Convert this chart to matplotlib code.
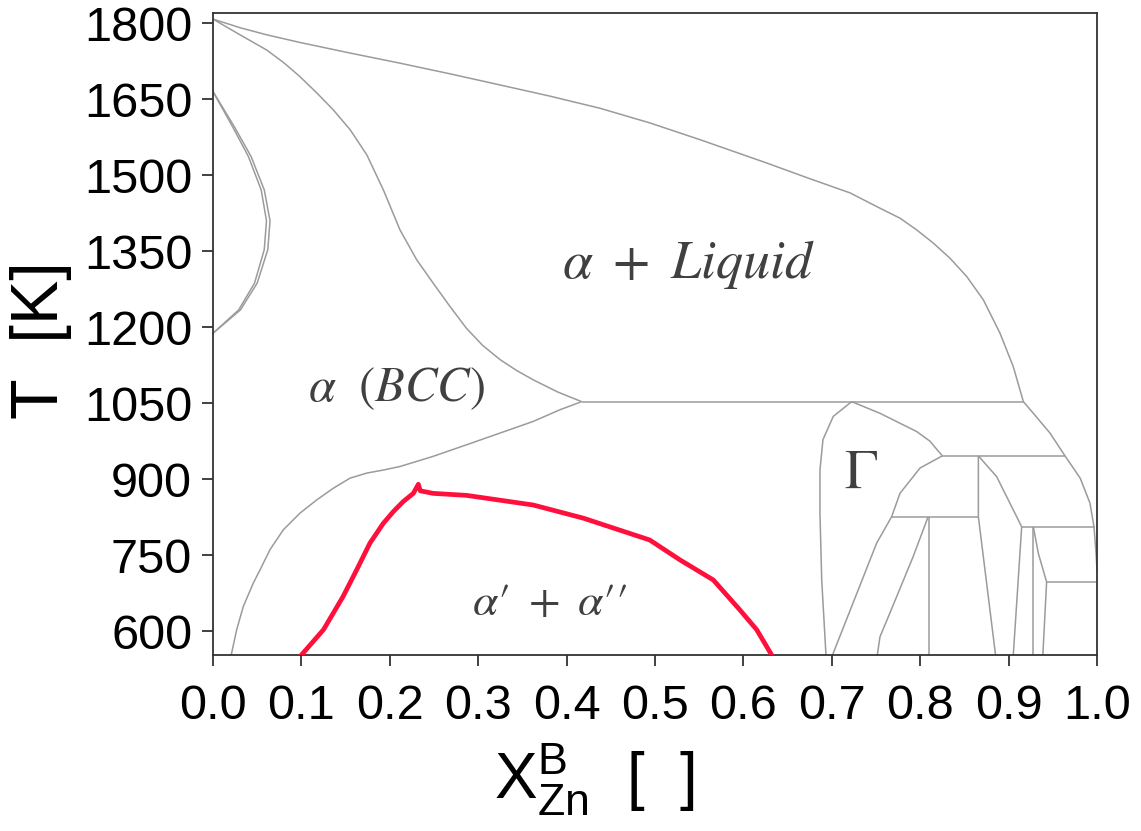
import matplotlib
matplotlib.use("Agg")
import matplotlib.pyplot as plt

# ---------------- data ----------------
liquidus_x = [0.0, 0.0305, 0.0607, 0.098, 0.155, 0.2115, 0.268, 0.3247, 0.381, 0.4378, 0.4943, 0.5509,
              0.5886, 0.6263, 0.6735, 0.7206, 0.7508, 0.7772, 0.796, 0.8148, 0.8337, 0.8526, 0.8714,
              0.8903, 0.9053, 0.9167]
liquidus_T = [1808, 1791, 1777, 1762, 1741, 1721, 1700, 1678, 1656, 1632, 1603, 1570,
              1547, 1524, 1494, 1465, 1438, 1415, 1392, 1366, 1336, 1300, 1254,
              1188, 1122, 1053]

solidus_x = [0.0, 0.0305, 0.0607, 0.080, 0.098, 0.117, 0.136, 0.155, 0.174, 0.1927, 0.2115, 0.2304,
             0.249, 0.268, 0.2866, 0.305, 0.3247, 0.343, 0.3623, 0.39, 0.417]
solidus_T = [1808, 1777, 1747, 1722, 1695, 1663, 1629, 1590, 1540, 1471, 1392, 1333,
             1287, 1241, 1198, 1164, 1136, 1115, 1096, 1072, 1053]

alpha_solvus_x = [0.417, 0.3925, 0.3623, 0.3247, 0.287, 0.249, 0.2115, 0.1927, 0.1739, 0.155, 0.136,
                  0.1173, 0.0984, 0.0795, 0.0645, 0.0532, 0.0456, 0.0343, 0.0268, 0.0211, 0.0196]
alpha_solvus_T = [1053, 1037, 1014, 991, 968, 945, 925, 918, 912, 902, 882,
                  859, 833, 800, 761, 721, 695, 649, 603, 557, 545]

gamma_loop_outer_x = [0.0, 0.024, 0.043, 0.058, 0.0645, 0.062, 0.050, 0.031, 0.0]
gamma_loop_outer_T = [1665, 1596, 1537, 1471, 1410, 1353, 1287, 1234, 1188]
gamma_loop_inner_x = [0.0, 0.022, 0.040, 0.0545, 0.0605, 0.058, 0.047, 0.029, 0.0]
gamma_loop_inner_T = [1665, 1596, 1537, 1471, 1410, 1353, 1287, 1234, 1188]

spinodal_x = [0.100, 0.125, 0.147, 0.1625, 0.1776, 0.1927, 0.204, 0.2153, 0.2266, 0.2323, 0.2345,
              0.249, 0.287, 0.3623, 0.419, 0.494, 0.528, 0.566, 0.596, 0.615, 0.632, 0.635]
spinodal_T = [553, 603, 668, 721, 774, 813, 836, 856, 872, 890, 877,
              872, 868, 849, 823, 780, 741, 701, 642, 603, 553, 545]

# invariant (horizontal) lines: temperature, x_start, x_end
invariant_T = [1053, 946, 826, 806, 697]
invariant_x0 = [0.417, 0.825, 0.7677, 0.9148, 0.943]
invariant_x1 = [0.917, 0.9638, 0.8658, 0.9977, 1.0]

gamma_left_x = [0.7225, 0.7017, 0.690, 0.6866, 0.6866, 0.6886, 0.6934, 0.694]
gamma_left_T = [1053, 1024, 978, 918, 833, 701, 553, 545]
gamma_right_x = [0.7225, 0.7545, 0.796, 0.811, 0.825]
gamma_right_T = [1053, 1030, 994, 975, 946]

g1_left_x = [0.825, 0.7998, 0.7771, 0.7677, 0.7508, 0.7017, 0.700]
g1_left_T = [946, 922, 872, 826, 774, 557, 545]
g1_inner_x = [0.809, 0.792, 0.766, 0.7545, 0.7515, 0.7513]
g1_inner_T = [826, 747, 637, 589, 553, 545]
vert_a_x = [0.8096, 0.8096]
vert_a_T = [826, 545]
d_upper_x = [0.8658, 0.8658, 0.8858]
d_upper_T = [946, 826, 545]
d_diag_x = [0.8658, 0.8865, 0.9148]
d_diag_T = [946, 905, 806]
d_low_x = [0.9148, 0.9050]
d_low_T = [806, 545]
vert_b_x = [0.928, 0.928]
vert_b_T = [806, 545]
z_upper_x = [0.928, 0.9336, 0.943]
z_upper_T = [806, 754, 697]
z_low_x = [0.943, 0.9385]
z_low_T = [697, 545]
right_x = [0.9167, 0.928, 0.9468, 0.9638, 0.981, 0.992, 0.9966, 0.9989, 1.0]
right_T = [1053, 1030, 991, 946, 902, 853, 806, 754, 720]

x_ticks = [0.0, 0.1, 0.2, 0.3, 0.4, 0.5, 0.6, 0.7, 0.8, 0.9, 1.0]
y_ticks = [600, 750, 900, 1050, 1200, 1350, 1500, 1650, 1800]

labels = [r"$\alpha\ +\ Liquid$", r"$\alpha\ \ (BCC)$", r"$\alpha\prime\ +\ \alpha\prime\prime$", r"$\Gamma$"]
label_x = [0.538, 0.2078, 0.381, 0.7325]
label_T = [1297, 1053, 632, 882]
label_size = [39, 35, 33, 40]

# ---------------- style ----------------
SANS = ["Liberation Sans", "DejaVu Sans"]
plt.rcParams["font.family"] = SANS
plt.rcParams["mathtext.fontset"] = "stix"
plt.rcParams["mathtext.default"] = "it"

GRAY = "#9b9b9b"
LW = 1.1

fig = plt.figure(figsize=(11.41, 8.31), dpi=100)
ax = fig.add_axes([213 / 1141, 1 - 655 / 831, 884 / 1141, 642 / 831])

def gline(xs, ts):
    ax.plot(xs, ts, color=GRAY, lw=LW, solid_capstyle="butt", solid_joinstyle="round", zorder=2)

gline(liquidus_x, liquidus_T)
gline(solidus_x, solidus_T)
gline(alpha_solvus_x, alpha_solvus_T)
gline(gamma_loop_outer_x, gamma_loop_outer_T)
gline(gamma_loop_inner_x, gamma_loop_inner_T)
for T, a, b in zip(invariant_T, invariant_x0, invariant_x1):
    gline([a, b], [T, T])
for xs, ts in [(gamma_left_x, gamma_left_T), (gamma_right_x, gamma_right_T),
               (g1_left_x, g1_left_T), (g1_inner_x, g1_inner_T), (vert_a_x, vert_a_T),
               (d_upper_x, d_upper_T), (d_diag_x, d_diag_T), (d_low_x, d_low_T),
               (vert_b_x, vert_b_T), (z_upper_x, z_upper_T), (z_low_x, z_low_T),
               (right_x, right_T)]:
    gline(xs, ts)

ax.plot(spinodal_x, spinodal_T, color="#ff0f3c", lw=3.4, solid_joinstyle="round", zorder=3)

for s, xx, tt, fs in zip(labels, label_x, label_T, label_size):
    ax.text(xx, tt, s, fontsize=fs, color="#404040", ha="center", va="baseline", zorder=4)

ax.set_xlim(0, 1)
ax.set_ylim(553, 1820)
ax.set_xticks(x_ticks)
ax.set_xticklabels([f"{v:.1f}" for v in x_ticks])
ax.set_yticks(y_ticks)
ax.set_yticklabels([str(v) for v in y_ticks])

for sp in ax.spines.values():
    sp.set_linewidth(1.3)
    sp.set_color("#333333")
ax.tick_params(axis="both", direction="out", length=8, width=1.3, color="#333333",
               labelsize=35, labelcolor="black")
ax.tick_params(axis="x", pad=13)
ax.tick_params(axis="y", pad=7)

ax.set_xlabel(r"$\mathregular{X_{Zn}^{B}}$  [  ]", fontsize=46)
ax.xaxis.set_label_coords(0.431, -0.135)
ax.set_ylabel("T  [K]", fontsize=48)
ax.yaxis.set_label_coords(-0.16, 0.49)

fig.savefig("out.png", dpi=100, facecolor="white")
